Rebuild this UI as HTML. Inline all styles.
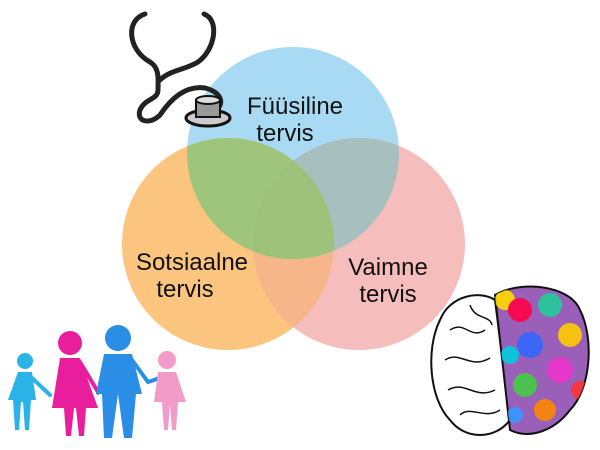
<!DOCTYPE html>
<html><head><style>body{margin:0;background:#fff}svg{display:block}</style></head><body>
<svg width="600" height="450" viewBox="0 0 600 450" xmlns="http://www.w3.org/2000/svg">
<defs>
<clipPath id="cb"><circle cx="293" cy="153" r="106"/></clipPath>
<clipPath id="co"><circle cx="228" cy="244" r="106"/></clipPath>
<clipPath id="cp"><circle cx="359" cy="244" r="106"/></clipPath>
<clipPath id="br"><path d="M495 295 C520 280 570 285 580 310 C595 340 590 390 570 410 C555 430 530 440 510 430 Z"/></clipPath>
</defs>
<circle cx="293" cy="153" r="106" fill="#a8daf3"/>
<circle cx="228" cy="244" r="106" fill="#fbc47f"/>
<circle cx="359" cy="244" r="106" fill="#f5bdbb"/>
<g clip-path="url(#co)"><circle cx="359" cy="244" r="106" fill="#f6b68a"/></g>
<g clip-path="url(#cb)"><circle cx="228" cy="244" r="106" fill="#9fc47b"/><circle cx="359" cy="244" r="106" fill="#a8bfbf"/></g>
<g clip-path="url(#cb)"><g clip-path="url(#co)"><circle cx="359" cy="244" r="106" fill="#9fc27a"/></g></g>
<g font-family="Liberation Sans, sans-serif" font-size="24" fill="#111" text-anchor="middle">
<text x="295" y="114">Füüsiline</text><text x="285" y="141">tervis</text>
<text x="192" y="270">Sotsiaalne</text><text x="185" y="297">tervis</text>
<text x="388" y="275">Vaimne</text><text x="388" y="302">tervis</text>
</g>
<!-- stethoscope -->
<g fill="none" stroke="#222" stroke-width="5" stroke-linecap="round">
<path d="M145 14 C125 20 128 50 150 62 C160 68 158 80 158 90 C158 100 145 98 140 110 C136 122 150 125 160 115 C170 100 185 85 205 88 C222 92 225 105 215 110"/>
<path d="M204 14 C220 20 215 50 198 62 C185 70 170 70 160 80"/>
</g>
<ellipse cx="208" cy="118" rx="22" ry="8" fill="#ccc" stroke="#111" stroke-width="3"/>
<rect x="196" y="100" width="24" height="17" fill="#999" stroke="#111" stroke-width="2"/>
<ellipse cx="208" cy="100" rx="12" ry="4" fill="#ddd" stroke="#111" stroke-width="2"/>
<!-- family -->
<g stroke-width="4" stroke-linecap="round" fill="none">
<path d="M32 378 L50 395" stroke="#2ab3e6"/>
<path d="M80 362 L98 392 L108 378" stroke="#e91e9c"/>
<path d="M132 360 L148 382 L160 378" stroke="#2a8ee6"/>
</g>
<g>
<circle cx="25" cy="361" r="8" fill="#2ab3e6"/><path d="M18 372h14l4 28h-5l-2 30h-4l-2-28h-2l-2 28h-4l-2-30h-5z" fill="#2ab3e6"/>
<circle cx="70" cy="343" r="12" fill="#e91e9c"/><path d="M60 358h20l18 50h-12l-2 28h-5l-3-28h-2l-3 28h-5l-2-28h-12z" fill="#e91e9c"/>
<circle cx="118" cy="338" r="13" fill="#2a8ee6"/><path d="M104 354h28l10 40h-6l-4 44h-8l-6-44-6 44h-8l-2-44h-6z" fill="#2a8ee6"/>
<circle cx="167" cy="360" r="9" fill="#f29ac8"/><path d="M158 372h18l10 30h-8l-2 28h-4l-2-26-2 26h-4l-2-28h-8z" fill="#f29ac8"/>
</g>
<!-- brain -->
<path d="M440 320 C450 295 480 290 495 300 L510 420 C495 440 465 440 450 420 C430 400 425 350 440 320z" fill="#fff" stroke="#111" stroke-width="2"/>
<g fill="none" stroke="#111" stroke-width="1.5">
<path d="M450 330 C465 320 470 340 485 330 M445 360 C460 350 470 370 490 358 M448 390 C465 380 475 400 495 390 M460 415 C470 405 485 420 500 410 M470 305 C475 320 490 315 492 325"/>
</g>
<path d="M495 295 C520 280 570 285 580 310 C595 340 590 390 570 410 C555 430 530 440 510 430 Z" fill="#9a5fb8" stroke="#111" stroke-width="2"/>
<g clip-path="url(#br)" opacity="0.9">
<circle cx="505" cy="300" r="10" fill="#fd0"/><circle cx="520" cy="310" r="12" fill="#f04"/><circle cx="550" cy="305" r="12" fill="#2c9"/><circle cx="570" cy="335" r="12" fill="#fc0"/>
<circle cx="530" cy="345" r="13" fill="#36f"/><circle cx="560" cy="370" r="13" fill="#e3c"/><circle cx="525" cy="385" r="12" fill="#4c4"/>
<circle cx="545" cy="410" r="11" fill="#f80"/><circle cx="510" cy="355" r="9" fill="#0cd"/><circle cx="580" cy="390" r="9" fill="#f33"/><circle cx="515" cy="415" r="8" fill="#39f"/>
</g>
</svg>
</body></html>
